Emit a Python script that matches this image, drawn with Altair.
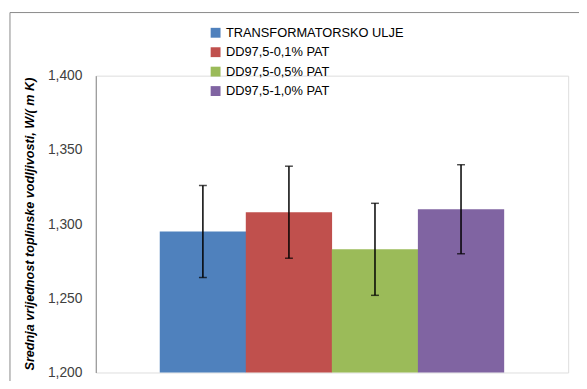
import altair as alt
import pandas as pd

series = ["TRANSFORMATORSKO  ULJE", "DD97,5-0,1% PAT", "DD97,5-0,5% PAT", "DD97,5-1,0% PAT"]
means = [1.295, 1.308, 1.283, 1.310]
errors = [0.031, 0.031, 0.031, 0.030]
colors = ["#4F81BD", "#C0504D", "#9BBB59", "#8064A2"]
y_ticks = [1.200, 1.250, 1.300, 1.350, 1.400]
y_title = "Srednja vrijednost toplinske vodljivosti, W/( m K)"

df = pd.DataFrame({
    "series": series,
    "mean": means,
    "lo": [m - e for m, e in zip(means, errors)],
    "hi": [m + e for m, e in zip(means, errors)],
    "base": [y_ticks[0]] * len(series),
})

xenc = alt.X("series:N", sort=series, axis=None,
             scale=alt.Scale(paddingInner=0, paddingOuter=0.745))
yscale = alt.Scale(domain=[y_ticks[0], y_ticks[-1]], zero=False, nice=False)

bars = alt.Chart(df).mark_bar(size=87.5).encode(
    x=xenc,
    y=alt.Y("mean:Q", scale=yscale,
            axis=alt.Axis(values=y_ticks, grid=False, ticks=False,
                          labelExpr="replace(format(datum.value, '.3f'), '.', ',')",
                          labelFont="Liberation Sans", labelFontSize=14, labelColor="#404040",
                          labelPadding=14, domainColor="#868686", domainWidth=1,
                          title=y_title, titleFont="Liberation Sans", titleFontSize=12.8,
                          titleFontWeight="bold", titleFontStyle="italic", titleColor="#000000",
                          titleAngle=-90, titleX=-67, titleY=150, titleBaseline="middle",
                          titleAlign="center")),
    y2="base:Q",
    color=alt.Color("series:N", sort=series,
                    scale=alt.Scale(domain=series, range=colors),
                    legend=alt.Legend(title=None, orient="none", legendX=115, legendY=-50,
                                      symbolType="square", symbolSize=100, symbolStrokeWidth=0,
                                      labelFont="Liberation Sans", labelFontSize=13,
                                      labelColor="#000000", rowPadding=5.7, padding=0,
                                      labelOffset=4, labelLimit=0)),
)

rules = alt.Chart(df).mark_rule(color="black", strokeWidth=1.5).encode(
    x=xenc, y=alt.Y("lo:Q", scale=yscale), y2="hi:Q")
cap_lo = alt.Chart(df).mark_tick(color="black", size=8, thickness=1.5).encode(
    x=xenc, y=alt.Y("lo:Q", scale=yscale))
cap_hi = alt.Chart(df).mark_tick(color="black", size=8, thickness=1.5).encode(
    x=xenc, y=alt.Y("hi:Q", scale=yscale))

frame_df = pd.DataFrame({"a": [0]})
frame_left = alt.Chart(frame_df).mark_rule(color="#898989", strokeWidth=1).encode(
    x=alt.value(-87), y=alt.value(-64), y2=alt.value(330))
frame_top = alt.Chart(frame_df).mark_rule(color="#898989", strokeWidth=1).encode(
    x=alt.value(-87), x2=alt.value(500), y=alt.value(-64))

chart = alt.layer(frame_left, frame_top, bars, rules, cap_lo, cap_hi).properties(
    width=479, height=301,
    autosize=alt.AutoSizeParams(type="none"),
    padding={"left": 89, "top": 66, "right": 11, "bottom": 6},
).configure_view(stroke=None).configure(background="white")

chart.save("out.html", embed_options={"renderer": "svg", "actions": False})
